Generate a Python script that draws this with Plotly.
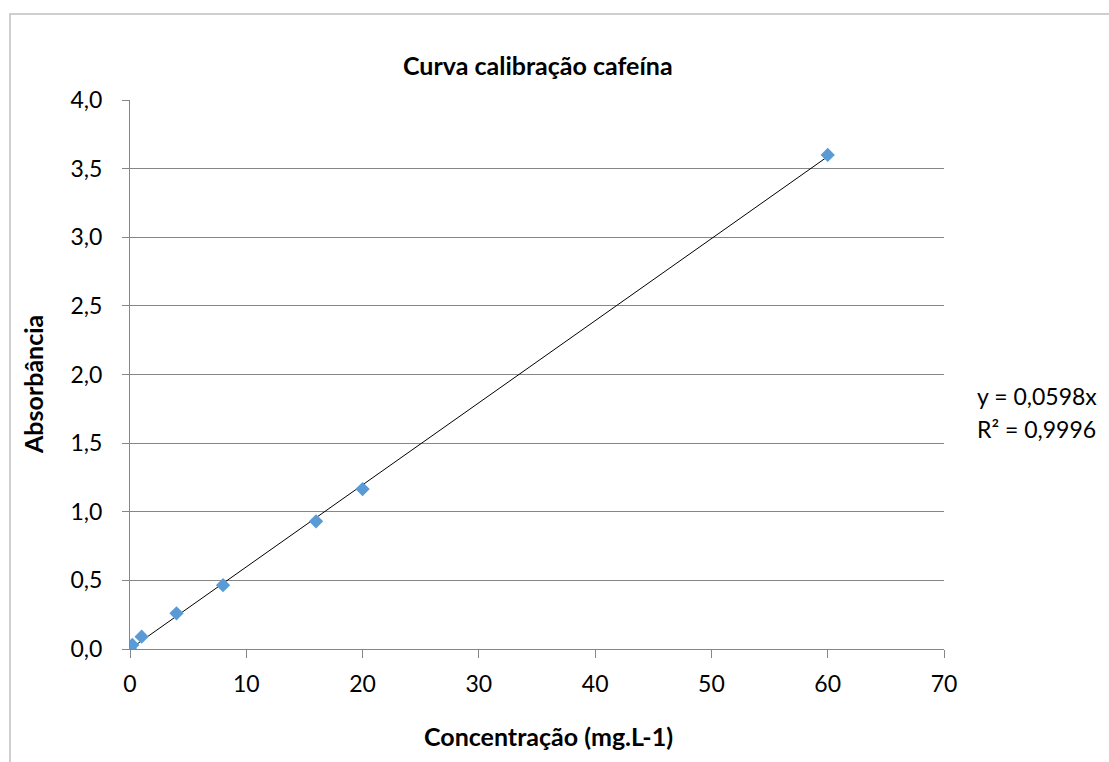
import plotly.graph_objects as go

# Calibration data: caffeine concentration (mg/L) vs absorbance
concentracao = [0, 0.2, 1, 4, 8, 16, 20, 60]
absorbancia = [0.0, 0.03, 0.09, 0.26, 0.465, 0.93, 1.165, 3.60]

# Linear fit through the origin
inclinacao = 0.0598
r2 = 0.9996

x_ticks = [0, 10, 20, 30, 40, 50, 60, 70]
y_ticks = [0.0, 0.5, 1.0, 1.5, 2.0, 2.5, 3.0, 3.5, 4.0]

W, H = 1109, 762
L, R, T, B = 130, 944, 100, 649  # plot area in pixels

def px_x(p):
    return (p - L) / (R - L)

def px_y(p):
    return (B - p) / (B - T)

FONT = "Lato"

fit_x = [min(concentracao), max(concentracao)]
fit_y = [inclinacao * v for v in fit_x]

fig = go.Figure()
fig.add_trace(go.Scatter(
    x=fit_x, y=fit_y, mode="lines",
    line=dict(color="black", width=1),
    hoverinfo="skip", showlegend=False,
))
fig.add_trace(go.Scatter(
    x=concentracao, y=absorbancia, mode="markers",
    marker=dict(symbol="diamond", size=11, color="#5B9BD5", line=dict(width=0)),
    showlegend=False,
))

eq_text = f"y = {inclinacao:.4f}x".replace(".", ",")
r2_text = f"R² = {r2:.4f}".replace(".", ",")


def label(text, x, y, size, **kw):
    opts = dict(text=text, xref="paper", yref="paper", x=px_x(x), y=px_y(y),
                xanchor="center", yanchor="middle", showarrow=False,
                font=dict(size=size, family=FONT, color="black"))
    opts.update(kw)
    return opts


fig.update_layout(
    width=W, height=H,
    margin=dict(l=L, r=W - R, t=T, b=H - B),
    paper_bgcolor="white", plot_bgcolor="white",
    separators=",.",
    font=dict(family=FONT, size=23, color="black"),
    xaxis=dict(
        range=[0, 70], tickvals=x_ticks, showgrid=False, zeroline=False,
        showline=True, linecolor="#868686", linewidth=1,
        ticks="outside", ticklen=8, tickcolor="#868686",
        ticklabelstandoff=6,
    ),
    yaxis=dict(
        range=[0, 4], tickvals=y_ticks, tickformat=".1f",
        showgrid=True, gridcolor="#868686", gridwidth=1, zeroline=False,
        showline=True, linecolor="#868686", linewidth=1,
        ticks="outside", ticklen=7, tickcolor="#868686",
        ticklabelstandoff=15,
    ),
    shapes=[dict(
        type="rect", xref="paper", yref="paper",
        x0=px_x(10), x1=px_x(W + 20), y0=px_y(H + 20), y1=px_y(14),
        line=dict(color="#BFBFBF", width=1.5), fillcolor="rgba(0,0,0,0)",
        layer="below",
    )],
    annotations=[
        label("<b>Curva calibração cafeína</b>", 538, 65, 25),
        label("<b>Concentração (mg.L-1)</b>", 548, 736, 25),
        label("<b>Absorbância</b>", 33, 385, 25, textangle=-90),
        label(eq_text, 975, 396, 23, xanchor="left"),
        label(r2_text, 975, 429, 23, xanchor="left"),
    ],
)

fig.write_html("out.html")
